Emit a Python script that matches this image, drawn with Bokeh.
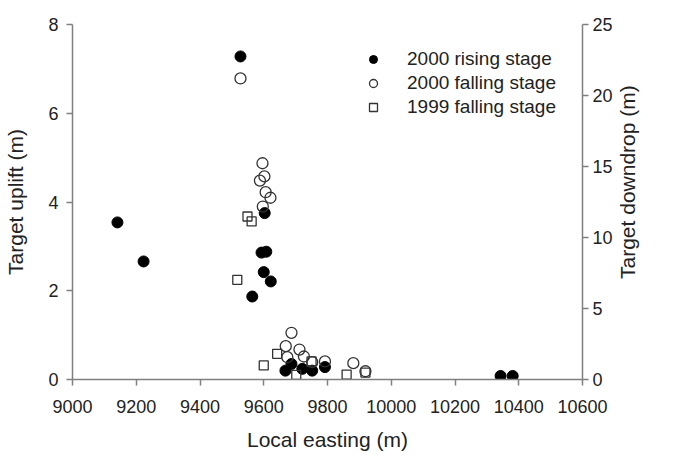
import math
from bokeh.plotting import figure
from bokeh.layouts import row
from bokeh.models import Range1d, LinearAxis, Legend, LegendItem, FixedTicker
from bokeh.embed import file_html
from bokeh.resources import INLINE

# 2000 rising stage (target uplift, left axis)
rise_x = [9527, 9141, 9223, 9603, 9593, 9608, 9600, 9622, 9564,
          9668, 9687, 9721, 9752, 9792, 10343, 10381]
rise_y = [7.28, 3.54, 2.66, 3.75, 2.86, 2.88, 2.42, 2.21, 1.87,
          0.20, 0.35, 0.24, 0.20, 0.28, 0.08, 0.08]

# 2000 falling stage (target downdrop, right axis)
fall00_x = [9527, 9596, 9602, 9588, 9606, 9621, 9597,
            9687, 9669, 9712, 9674, 9726, 9752, 9792, 9881, 9919]
fall00_y = [21.2, 15.23, 14.30, 14.01, 13.19, 12.80, 12.18,
            3.29, 2.35, 2.11, 1.57, 1.62, 1.22, 1.27, 1.15, 0.58]

# 1999 falling stage (target downdrop, right axis)
fall99_x = [9517, 9549, 9562, 9600, 9642, 9702, 9750, 9860, 9919]
fall99_y = [7.02, 11.48, 11.13, 0.99, 1.81, 0.33, 1.27, 0.35, 0.49]

x_ticks = [9000, 9200, 9400, 9600, 9800, 10000, 10200, 10400, 10600]
left_ticks = [0, 2, 4, 6, 8]
right_ticks = [0, 5, 10, 15, 20, 25]

x_title = "Local easting (m)"
left_title = "Target uplift (m)"
right_title = "Target downdrop (m)"

FONT = "Liberation Sans"
AX = "#7f7f7f"
TXT = "#222222"

p = figure(width=615, height=454, output_backend="svg", toolbar_location=None,
           x_range=Range1d(9000, 10600), y_range=Range1d(0, 8),
           min_border_left=72, min_border_right=33, min_border_top=24, min_border_bottom=75)
p.extra_y_ranges = {"right": Range1d(0, 25)}
p.outline_line_color = None
p.xgrid.visible = False
p.ygrid.visible = False
p.background_fill_color = "white"
p.border_fill_color = "white"

r1 = p.scatter(rise_x, rise_y, marker="circle", size=11, fill_color="black", line_color="black")
r2 = p.scatter(fall00_x, fall00_y, y_range_name="right", marker="circle", size=11,
               fill_color="white", fill_alpha=0.0, line_color="#333333", line_width=1.3)
r3 = p.scatter(fall99_x, fall99_y, y_range_name="right", marker="square", size=9,
               fill_color="white", fill_alpha=0.0, line_color="#333333", line_width=1.3)

raxis = LinearAxis(y_range_name="right")
p.add_layout(raxis, "right")

p.xaxis[0].ticker = FixedTicker(ticks=x_ticks)
p.yaxis[0].ticker = FixedTicker(ticks=left_ticks)
raxis.ticker = FixedTicker(ticks=right_ticks)

p.xaxis[0].axis_label = x_title
p.yaxis[0].axis_label = left_title

for ax in [p.xaxis[0], p.yaxis[0], raxis]:
    ax.axis_line_color = AX
    ax.axis_line_width = 1.5
    ax.major_tick_line_color = AX
    ax.major_tick_line_width = 1.5
    ax.major_tick_in = 0
    ax.major_tick_out = 6
    ax.minor_tick_line_color = None
    ax.major_label_text_font = FONT
    ax.major_label_text_font_size = "18px"
    ax.major_label_text_color = TXT
    ax.axis_label_text_font = FONT
    ax.axis_label_text_font_size = "21px"
    ax.axis_label_text_font_style = "normal"
    ax.axis_label_text_color = TXT

p.xaxis[0].major_label_standoff = 14
p.xaxis[0].axis_label_standoff = 12
p.yaxis[0].major_label_standoff = 8
p.yaxis[0].axis_label_standoff = 18
raxis.major_label_standoff = 4

legend = Legend(items=[
    LegendItem(label="2000 rising stage", renderers=[r1]),
    LegendItem(label="2000 falling stage", renderers=[r2]),
    LegendItem(label="1999 falling stage", renderers=[r3]),
], location=(291, 261), padding=0, margin=0, spacing=2,
   glyph_width=20, glyph_height=20, label_height=20, label_standoff=24,
   border_line_color=None, background_fill_alpha=0.0,
   label_text_font=FONT, label_text_font_size="19px", label_text_color=TXT)
p.add_layout(legend)

# narrow strip to the right carrying the right-axis title, reading bottom-to-top
p2 = figure(width=60, height=454, output_backend="svg", toolbar_location=None,
            x_range=Range1d(0, 1), y_range=Range1d(0, 1),
            x_axis_type=None, y_axis_type=None, min_border=0)
p2.outline_line_color = None
p2.xgrid.visible = False
p2.ygrid.visible = False
p2.border_fill_color = "white"
p2.text(x=[0.2], y=[0.556], text=[right_title], angle=math.pi / 2,
        text_align="center", text_baseline="middle",
        text_font={"value": FONT}, text_font_size="21px", text_color=TXT)

layout = row(p, p2, spacing=0)
open("out.html", "w").write(file_html(layout, INLINE))
